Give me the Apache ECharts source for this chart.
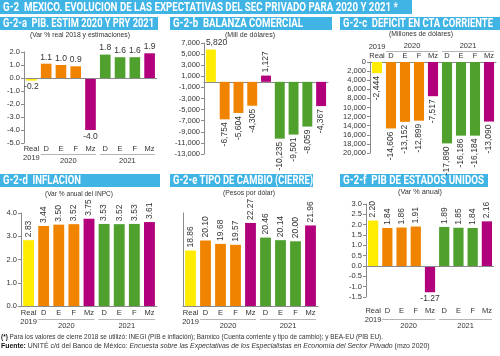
<!DOCTYPE html>
<html><head><meta charset="utf-8">
<script src="https://cdn.jsdelivr.net/npm/echarts@6/dist/echarts.min.js"></script>
<style>html,body{margin:0;padding:0;background:#fff}#c{width:500px;height:356px}</style>
</head><body><div id="c"></div>
<script>
// ---- data ----
const categories = ['Real', 'D', 'E', 'F', 'Mz', 'D', 'E', 'F', 'Mz'];
const firstSubLabel = '2019';
const yearLabels = ['', '', '', '2020', '', '', '', '2021', '', ''];
const pibMx = [-0.2, 1.1, 1.0, 0.9, -4.0, 1.8, 1.6, 1.6, 1.9];
const balanza = [5820, -6754, -5604, -4305, 1127, -10235, -9501, -8059, -4367];
const ctaCorriente = [-2444, -14606, -13152, -12899, -7517, -17890, -16186, -16184, -13090];
const inflacion = [2.83, 3.44, 3.50, 3.52, 3.75, 3.53, 3.52, 3.53, 3.61];
const tipoCambio = [18.86, 20.10, 19.68, 19.57, 22.27, 20.46, 20.14, 20.00, 21.96];
const pibEU = [2.20, 1.84, 1.86, 1.91, -1.27, 1.89, 1.85, 1.84, 2.16];
const balanzaTicks = [7000, 5000, 3000, 1000, -1000, -3000, -5000, -7000, -9000, -11000, -13000];

// ---- styles ----
const FONT = '"Liberation Sans", Arial, sans-serif';
const TFONT = 'Roboto, "Liberation Sans", sans-serif';
const BLUE = '#41b4e6';
const YEL = '#ffec00', ORA = '#f08400', MAG = '#b2007d', GRN = '#4fa02d';
const barColors = [YEL, ORA, ORA, ORA, MAG, GRN, GRN, GRN, MAG];
const AX = '#8a8a8a';
const TXT = '#333';
const AXF = 7.5;   // axis label size
const VLF = 8.5;   // value label size

const grids = [
  {left: 24, top: 52, width: 133, height: 91},
  {left: 204, top: 43, width: 124, height: 111},
  {left: 370, top: 62, width: 126, height: 91},
  {left: 21, top: 213, width: 136, height: 93},
  {left: 183, top: 213, width: 135, height: 93},
  {left: 366, top: 204, width: 128, height: 93}
];

const fmt1 = v => v.toFixed(1);
const fmt2 = v => v.toFixed(2);
const fmtK = v => v.toLocaleString('en-US');

function mainXAxis(gi, opts) {
  const o = Object.assign({position: 'bottom', margin: 2, show: true, line: false}, opts || {});
  return {
    type: 'category', gridIndex: gi, data: categories, position: o.position,
    axisLine: {show: o.line, onZero: false, lineStyle: {color: AX}},
    axisTick: {show: false},
    axisLabel: {
      show: o.show, interval: 0, margin: o.margin, fontFamily: FONT, fontSize: AXF, color: TXT, lineHeight: 8.5,
      formatter: (v, i) => i === 0 ? (o.position === 'top' ? firstSubLabel + '\n' + v : v + '\n' + firstSubLabel) : v
    }
  };
}
function yearXAxis(gi, position, margin) {
  const w = grids[gi].width / categories.length * 4 - 4;
  return {
    type: 'category', gridIndex: gi, data: yearLabels, boundaryGap: false, position: position,
    axisLine: {show: false}, axisTick: {show: false}, splitLine: {show: false},
    axisLabel: {
      show: true, interval: 0, margin: margin, fontFamily: FONT, fontSize: AXF, color: TXT,
      formatter: v => v ? (position === 'top' ? '{yr|' + v + '}\n{ln| }' : '{ln| }\n{yr|' + v + '}') : '',
      rich: {
        yr: {fontFamily: FONT, fontSize: AXF, color: TXT, lineHeight: 9},
        ln: {width: w, height: 1, lineHeight: 3, fontSize: 1, backgroundColor: '#b5b5b5'}
      }
    }
  };
}
function yLabel(extra) {
  return Object.assign({fontFamily: FONT, fontSize: AXF, color: TXT, margin: 4}, extra);
}
function yAx(gi, o) {
  return Object.assign({
    type: 'value', gridIndex: gi, splitLine: {show: false},
    axisLine: {show: true, lineStyle: {color: AX}},
    axisTick: {show: true, length: 3, lineStyle: {color: AX}},
    axisLabel: yLabel({})
  }, o);
}

const xAxis = [
  mainXAxis(0, {margin: 2}), yearXAxis(0, 'bottom', 10),
  {type: 'category', gridIndex: 1, data: categories, axisLine: {show: true, lineStyle: {color: AX}}, axisTick: {show: false}, axisLabel: {show: false}},
  mainXAxis(2, {position: 'top', margin: 2, line: true}), yearXAxis(2, 'top', 9),
  mainXAxis(3, {margin: 3, line: true}), yearXAxis(3, 'bottom', 12),
  mainXAxis(4, {margin: 3, line: true}), yearXAxis(4, 'bottom', 12),
  mainXAxis(5, {margin: 10}), yearXAxis(5, 'bottom', 21)
];
const xIdx = [0, 2, 3, 5, 7, 9];

const yAxis = [
  yAx(0, {min: -5, max: 2, interval: 1, axisLabel: yLabel({formatter: fmt1})}),
  yAx(1, {min: -13000, max: 7000,
    axisLabel: yLabel({formatter: fmtK, customValues: balanzaTicks}),
    axisTick: {show: true, length: 3, lineStyle: {color: AX}, customValues: balanzaTicks}}),
  yAx(2, {min: -20000, max: 0, interval: 2000, axisLabel: yLabel({formatter: v => fmtK(Math.abs(v))})}),
  yAx(3, {min: 0, max: 4, interval: 1, axisLabel: yLabel({formatter: fmt1})}),
  yAx(4, {min: 12, max: 23.5, axisLabel: {show: false}, axisTick: {show: false}}),
  yAx(5, {min: -1.5, max: 3, interval: 0.5, axisLabel: yLabel({formatter: fmt1})})
];

const LBL = {show: true, position: 'outside', distance: 2, fontFamily: FONT, fontSize: VLF, color: TXT};
function rotLabel(v) {
  return {rotate: 90, align: v >= 0 ? 'left' : 'right', verticalAlign: 'middle', distance: 3};
}
function flatLabel() { return {rotate: 0, align: 'center'}; }
function leftFlatLabel() { return {rotate: 0, align: 'left', offset: [-5, 0]}; }

function makeSeries(gi, vals, fmt, labelFor, zeroLine) {
  const s = {
    type: 'bar', xAxisIndex: xIdx[gi], yAxisIndex: gi, barWidth: '72%',
    data: vals.map((v, i) => ({value: v, itemStyle: {color: barColors[i]}, label: labelFor(v, i)})),
    label: Object.assign({}, LBL, {formatter: p => fmt(p.value)})
  };
  if (zeroLine) {
    s.markLine = {silent: true, symbol: 'none', label: {show: false},
      lineStyle: {color: AX, width: 1, type: 'solid'}, data: [{yAxis: 0}]};
  }
  return s;
}

const series = [
  makeSeries(0, pibMx, fmt1, () => flatLabel(), true),
  makeSeries(1, balanza, fmtK, (v, i) => i === 0 ? leftFlatLabel() : rotLabel(v), false),
  makeSeries(2, ctaCorriente, fmtK, v => rotLabel(v), false),
  makeSeries(3, inflacion, fmt2, v => rotLabel(v), false),
  makeSeries(4, tipoCambio, fmt2, v => rotLabel(v), false),
  makeSeries(5, pibEU, fmt2, v => v >= 0 ? rotLabel(v) : flatLabel(), true)
];

// text width fitting (condensed look)
const mctx = document.createElement('canvas').getContext('2d');
function fit(text, weight, size, family, target) {
  mctx.font = weight + ' ' + size + 'px ' + family;
  return target / mctx.measureText(text).width;
}

function titleBar(x, y, w, h, text, textW) {
  return {type: 'group', x: x, y: y, children: [
    {type: 'rect', shape: {x: 0, y: 0, width: w, height: h}, style: {fill: BLUE}},
    {type: 'text', x: 3, y: h / 2 + 0.5, scaleX: fit(text, 'bold', 12, TFONT, textW),
      style: {text: text, fill: '#fff', fontFamily: TFONT, fontWeight: 'bold', fontSize: 12, verticalAlign: 'middle'}}
  ]};
}
function sub(x, y, text, textW) {
  return {type: 'text', x: x, y: y, scaleX: fit(text, 'normal', 8, FONT, textW),
    style: {text: text, fill: TXT, fontFamily: FONT, fontSize: 8, align: 'center', verticalAlign: 'middle'}};
}
const foot1 = '(*) Para los valores de cierre 2018 se utilizó: INEGI (PIB e inflación); Banxico (Cuenta corriente y tipo de cambio); y BEA-EU (PIB EU).';
const foot2 = 'Fuente: UNITÉ c/d del Banco de México: Encuesta sobre las Expectativas de los Especialistas en Economía del Sector Privado (mzo 2020)';

const graphic = [
  titleBar(0, 0, 412, 14, 'G-2  MEXICO. EVOLUCION DE LAS EXPECTATIVAS DEL SEC PRIVADO PARA 2020 Y 2021 *', 395),
  titleBar(0, 17, 158, 13, 'G-2-a  PIB. ESTIM 2020 Y PRY 2021', 151),
  titleBar(170, 17, 162, 13, 'G-2-b  BALANZA COMERCIAL', 130),
  titleBar(340, 17, 160, 13, 'G-2-c  DEFICIT EN CTA CORRIENTE', 150),
  titleBar(0, 174, 160, 13, 'G-2-d  INFLACION', 78),
  titleBar(170, 174, 143, 13, 'G-2-e TIPO DE CAMBIO (CIERRE)', 140),
  titleBar(340, 174, 148, 13, 'G-2-f  PIB DE ESTADOS UNIDOS', 141),
  sub(80, 35, '(Var % real 2018 y estimaciones)', 100),
  sub(250, 35, '(Mill de dólares)', 50),
  sub(421, 34, '(Millones de dólares)', 64),
  sub(79, 194, '(Var % anual del INPC)', 68),
  sub(249, 193, '(Pesos por dólar)', 52),
  sub(420, 192, '(Var % anual)', 44),
  {type: 'text', x: 1, y: 337, scaleX: fit(foot1, 'normal', 8, FONT, 382), style: {
    text: '{b|(*)} Para los valores de cierre 2018 se utilizó: INEGI (PIB e inflación); Banxico (Cuenta corriente y tipo de cambio); y BEA-EU (PIB EU).',
    fill: TXT, fontFamily: FONT, fontSize: 8, verticalAlign: 'middle',
    rich: {b: {fontFamily: FONT, fontSize: 8, fontWeight: 'bold', fill: '#111'}}
  }},
  {type: 'text', x: 1, y: 346, scaleX: fit(foot2, 'normal', 8, FONT, 427), style: {
    text: '{b|Fuente:} UNITÉ c/d del Banco de México: {i|Encuesta sobre las Expectativas de los Especialistas en Economía del Sector Privado} (mzo 2020)',
    fill: TXT, fontFamily: FONT, fontSize: 8, verticalAlign: 'middle',
    rich: {b: {fontFamily: FONT, fontSize: 8, fontWeight: 'bold', fill: '#111'}, i: {fontFamily: FONT, fontSize: 8, fontStyle: 'italic', fill: TXT}}
  }}
];

const chart = echarts.init(document.getElementById('c'), null, {renderer: 'canvas'});
chart.setOption({
  animation: false,
  backgroundColor: '#fff',
  grid: grids.map(g => Object.assign({containLabel: false}, g)),
  xAxis: xAxis,
  yAxis: yAxis,
  series: series,
  graphic: graphic
});
</script>
</body></html>
